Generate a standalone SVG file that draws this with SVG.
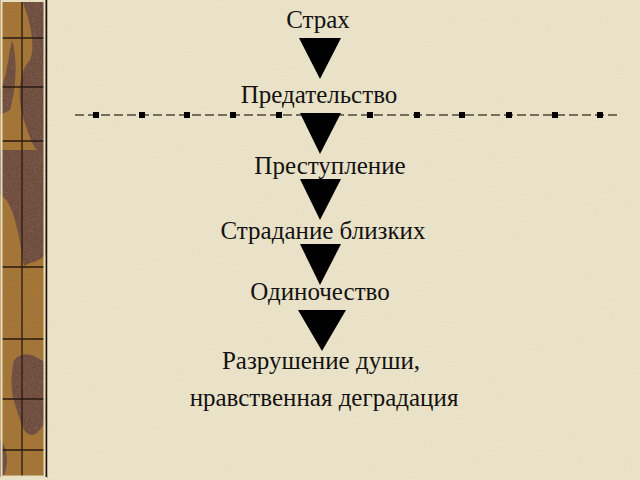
<svg xmlns="http://www.w3.org/2000/svg" width="640" height="480" viewBox="0 0 640 480">
<defs>
<style>
.t{font-family:"Liberation Serif","Times New Roman",serif;font-size:25px;fill:#141210;text-anchor:middle}
.arr{fill:#000}
.sq{fill:#000}
.grid{stroke:#2a1a10;stroke-width:1.3;fill:none}
</style>
<filter id="paper" x="0" y="0" width="100%" height="100%">
<feTurbulence type="fractalNoise" baseFrequency="0.9" numOctaves="2" seed="3" result="n"/>
<feColorMatrix in="n" type="matrix" values="0 0 0 0 0.91  0 0 0 0 0.88  0 0 0 0 0.77  0 0 0 -0.9 0.55" result="c"/>
<feComposite in="c" in2="SourceGraphic" operator="over"/>
</filter>
<filter id="grain" x="0" y="0" width="100%" height="100%">
<feTurbulence type="fractalNoise" baseFrequency="1.2" numOctaves="2" seed="7" result="n"/>
<feColorMatrix in="n" type="matrix" values="0 0 0 0 0.25  0 0 0 0 0.15  0 0 0 0 0.1  0 0 0 1.2 -0.45" result="c"/>
<feComposite in="c" in2="SourceGraphic" operator="atop"/>
</filter>
</defs>
<rect width="640" height="480" fill="#e8e1c6"/>
<rect width="640" height="480" fill="#e8e1c6" filter="url(#paper)" opacity="0.6"/>
<g id="strip">
<g filter="url(#grain)">
<rect x="0" y="0" width="47" height="478" fill="#a8772f"/>
<path d="M22 0 L46 0 L46 150 C38 160 30 140 24 120 C16 95 20 70 30 60 C36 45 30 20 22 0 Z" fill="#6d4a3c"/>
<path d="M0 150 L46 150 L46 255 C38 262 30 262 24 266 C20 240 14 200 0 195 Z" fill="#6d4a3c"/>
<path d="M12 40 C18 60 16 90 10 110 L0 115 L0 90 C6 80 8 60 12 40 Z" fill="#6d4a3c"/>
<path d="M14 360 C24 350 34 355 44 362 L46 420 C36 440 26 440 20 420 C14 400 8 390 14 360 Z" fill="#6d4a3c"/>
<path d="M0 440 C6 445 10 460 4 476 L0 476 Z" fill="#6d4a3c"/>
</g>
<g class="grid">
<line x1="22" y1="0" x2="22" y2="478"/>
<line x1="2" y1="38" x2="44" y2="38"/>
<line x1="2" y1="87" x2="44" y2="87"/>
<line x1="2" y1="141" x2="44" y2="141"/>
<line x1="2" y1="267" x2="44" y2="267"/>
<line x1="2" y1="339" x2="44" y2="339"/>
<line x1="2" y1="399" x2="44" y2="399"/>
<line x1="2" y1="450" x2="44" y2="450"/>
</g>
<rect x="1.5" y="1" width="43" height="475.5" fill="none" stroke="#e8dfc0" stroke-width="2"/>
<line x1="46.5" y1="0" x2="46.5" y2="478" stroke="#1a120c" stroke-width="1.5"/>
<rect x="0" y="477" width="47" height="3" fill="#e8e1c6"/>
</g>
<g id="divider">
<line x1="75" y1="115" x2="619" y2="115" stroke="#4f4838" stroke-width="1.6" stroke-dasharray="9 4"/>
<g class="sq">
<rect x="93" y="112" width="6" height="6"/>
<rect x="139" y="112" width="6" height="6"/>
<rect x="184" y="112" width="6" height="6"/>
<rect x="230" y="112" width="6" height="6"/>
<rect x="276" y="112" width="6" height="6"/>
<rect x="367" y="112" width="6" height="6"/>
<rect x="414" y="112" width="6" height="6"/>
<rect x="459" y="112" width="6" height="6"/>
<rect x="506" y="112" width="6" height="6"/>
<rect x="552" y="112" width="6" height="6"/>
<rect x="597" y="112" width="6" height="6"/>
</g>
</g>
<g id="connectors">
<polygon class="arr" points="299,38 341,38 320,79"/>
<polygon class="arr" points="300,113 341,113 320,154"/>
<polygon class="arr" points="300,179 341,179 320,220"/>
<polygon class="arr" points="300,244 341,244 320,285"/>
<polygon class="arr" points="298,310 346,310 322,351"/>
</g>
<g id="node-strah"><text class="t" x="318" y="28">Страх</text></g>
<g id="node-predatelstvo"><text class="t" x="319" y="103">Предательство</text></g>
<g id="node-prestuplenie"><text class="t" x="330" y="174">Преступление</text></g>
<g id="node-stradanie"><text class="t" x="323" y="239">Страдание близких</text></g>
<g id="node-odinochestvo"><text class="t" x="320" y="300">Одиночество</text></g>
<g id="node-razrushenie">
<text class="t" x="321" y="369">Разрушение души,</text>
<text class="t" x="324" y="406">нравственная деградация</text>
</g>
</svg>
